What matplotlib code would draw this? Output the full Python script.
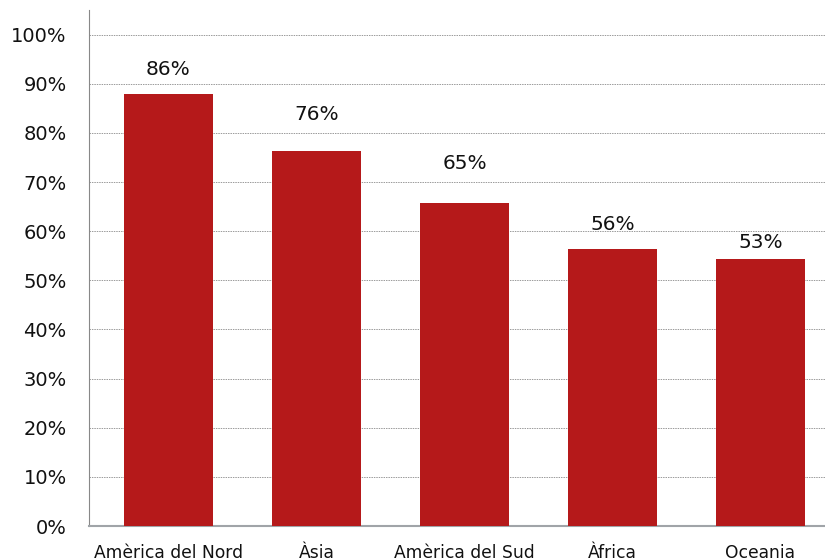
import matplotlib
matplotlib.use("Agg")
import matplotlib.pyplot as plt

regions = ["Amèrica del Nord", "Àsia", "Amèrica del Sud", "Àfrica", "Oceania"]
values = [88.0, 76.4, 65.7, 56.3, 54.3]
labels = ["86%", "76%", "65%", "56%", "53%"]
yticks = [0, 10, 20, 30, 40, 50, 60, 70, 80, 90, 100]

plt.rcParams["font.family"] = ["DejaVu Sans"]

fig = plt.figure(figsize=(8.25, 5.6), dpi=100)
ax = fig.add_axes([89 / 825, 34 / 560, 1 - 89 / 825, (526 - 10) / 560])

x = range(len(regions))
bars = ax.bar(x, values, width=0.6, color="#B5191A", zorder=3)

# label offsets above bar tops (px), as in the original
offs = [24, 36, 40, 25, 17]
for b, lab, o in zip(bars, labels, offs):
    ax.annotate(lab, (b.get_x() + b.get_width() / 2, b.get_height()),
                xytext=(0, o * 0.72), textcoords="offset points",
                ha="center", va="center", fontsize=14.5, color="#111111")

ax.set_xlim(-0.537, 4.436)
ax.set_ylim(0, 105)
ax.set_yticks(yticks)
ax.set_yticklabels([f"{t}%" for t in yticks])
ax.set_xticks(list(x))
ax.set_xticklabels(regions)
ax.tick_params(axis="both", length=0, colors="#111111")
ax.tick_params(axis="y", pad=16, labelsize=14)
ax.tick_params(axis="x", pad=13, labelsize=12.3)
ax.grid(axis="y", linestyle=(0, (1.5, 1)), color="#9a9a9a", linewidth=0.7, zorder=0)

for s in ["top", "right"]:
    ax.spines[s].set_visible(False)
ax.spines["left"].set_color("#888888")
ax.spines["bottom"].set_color("#A0A4A8")
ax.spines["bottom"].set_linewidth(1.5)

fig.savefig("out.png", dpi=100)
